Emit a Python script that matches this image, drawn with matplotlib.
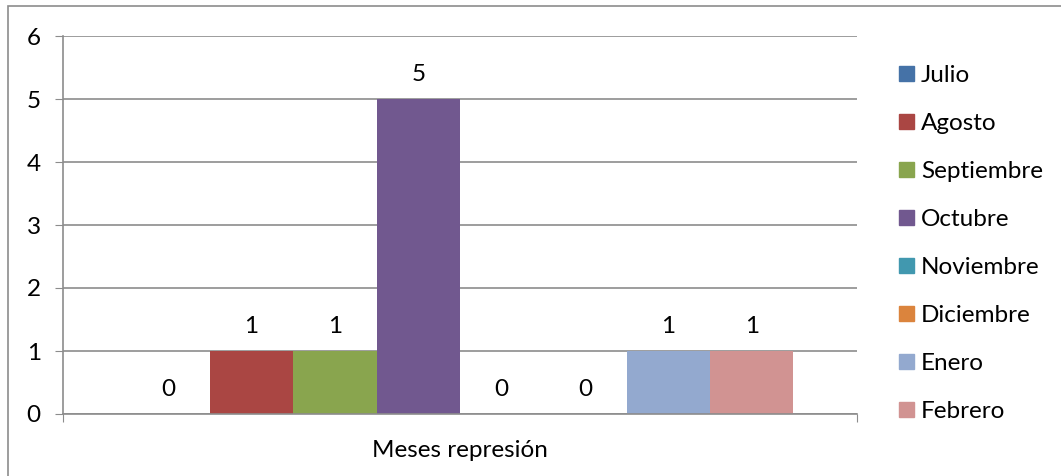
import numpy as np
import matplotlib.pyplot as plt
from matplotlib.patches import Rectangle

meses = ['Julio', 'Agosto', 'Septiembre', 'Octubre', 'Noviembre',
         'Diciembre', 'Enero', 'Febrero']
casos = [0, 1, 1, 5, 0, 0, 1, 1]
colores = ['#4572A7', '#AA4643', '#89A54E', '#71588F', '#4198AF',
           '#DB843D', '#93A9CF', '#D19392']
categoria = 'Meses represión'

plt.rcParams['font.family'] = ['Lato', 'DejaVu Sans']
fs = 17.5
W, H = 1061, 476
fig = plt.figure(figsize=(W / 100, H / 100), dpi=100)

# marco del grafico (solo se ven los bordes izquierdo y superior)
fig.patches.append(Rectangle((8 / W, -0.1), 1.2, (470 / H) + 0.1,
                             transform=fig.transFigure, fill=False,
                             edgecolor='#8c8c8c', linewidth=1.2))

ax = fig.add_axes([63 / W, (H - 414) / H, (857 - 63) / W, (414 - 36) / H])

n = len(meses)
w = 0.84 / n
x = (np.arange(n) - (n - 1) / 2) * w
bars = ax.bar(x, casos, width=w, color=colores, label=meses)

for xi, v in zip(x, casos):
    ax.annotate(str(v), (xi, v), xytext=(0, 10), textcoords='offset points',
                ha='center', va='bottom', fontsize=fs, color='black')

ax.set_xlim(-0.5, 0.5)
ax.set_ylim(0, 6)
ax.set_yticks(range(7))
ax.set_xticks([-0.5, 0.5])
ax.set_xticklabels([])
ax.set_xticks([0], [categoria], minor=True)
ax.tick_params(axis='x', which='major', length=6, color='#8c8c8c', direction='out')
ax.tick_params(axis='x', which='minor', length=0, labelsize=fs, pad=19)
ax.tick_params(axis='y', length=6, color='#8c8c8c', labelsize=fs, pad=10)

ax.yaxis.grid(True, color='#8c8c8c', linewidth=1.2)
ax.set_axisbelow(True)
for s in ['top', 'right']:
    ax.spines[s].set_visible(False)
for s in ['left', 'bottom']:
    ax.spines[s].set_color('#8c8c8c')
    ax.spines[s].set_linewidth(1.2)
ax.spines['left'].set_bounds(0, 6)

handles = [Rectangle((0, 0), 1, 1, color=c) for c in colores]
fig.legend(handles, meses, loc='upper left', bbox_to_anchor=(887 / W, (H - 53) / H),
           frameon=False, fontsize=fs, handlelength=0.6, handleheight=0.6,
           handletextpad=0.3, labelspacing=1.11, borderpad=0)

fig.savefig('out.png', dpi=100)
